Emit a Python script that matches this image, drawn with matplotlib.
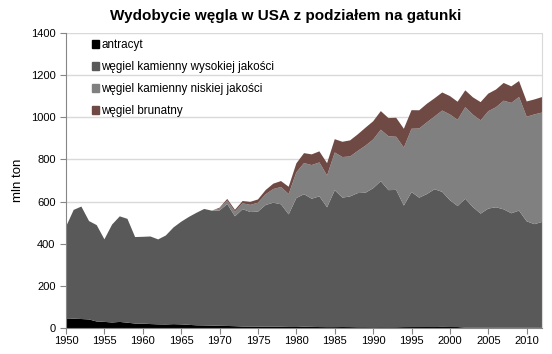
import numpy as np
import matplotlib.pyplot as plt
import matplotlib.patches as mpatches

plt.rcParams['font.family'] = ['Liberation Sans', 'DejaVu Sans']

# lata na osi X
years = list(range(1950, 2013))

# antracyt (mln ton)
antracyt = [42.7, 44.1, 42.7, 40.6, 30.9, 29.1, 26.2, 28.9, 25.3, 21.2,
            20.6, 18.8, 17.4, 16.9, 18.3, 17.2, 14.9, 12.9, 12.3, 11.5,
            10.5, 9.7, 8.7, 7.1, 6.8, 6.6, 6.2, 6.2, 5.9, 5.0,
            4.8, 6.1, 5.4, 4.6, 4.1, 4.2, 4.7, 4.3, 3.6, 3.6,
            3.3, 3.5, 3.4, 3.5, 4.3, 4.6, 4.7, 4.8, 4.7, 5.3,
            4.8, 4.6, 1.9, 1.4, 1.3, 1.7, 1.7, 1.5, 1.6, 1.7,
            1.9, 1.8, 2.2]

# wegiel kamienny wysokiej jakosci
wysokiej = [437.9, 516.3, 533.6, 466.8, 457.3, 391.7, 464.6, 500.9, 492.7, 410.4,
            412.1, 415.5, 403.0, 422.1, 458.9, 487.0, 512.1, 533.9, 552.6, 545.2,
            547.2, 578.5, 521.3, 556.8, 543.5, 545.7, 577.5, 588.4, 581.0, 534.0,
            611.9, 628.8, 608.0, 620.2, 568.6, 649.5, 613.9, 620.1, 636.6, 638.1,
            659.8, 693.2, 650.7, 651.8, 576.7, 640.3, 613.8, 630.7, 653.8, 640.6,
            601.7, 574.3, 611.3, 572.1, 541.5, 565.0, 571.2, 561.6, 542.8, 555.3,
            504.3, 491.0, 501.0]

# wegiel kamienny niskiej jakosci
niskiej = [0] * 20 + [8.8, 16.4, 22.2, 27.6, 34.0, 42.2, 51.1, 64.8, 82.1, 96.8,
                      121.9, 147.6, 159.7, 160.9, 151.1, 179.1, 192.6, 189.5, 200.2, 223.5,
                      231.2, 244.3, 255.4, 252.1, 274.9, 300.5, 328.0, 340.3, 345.1, 385.8,
                      406.7, 409.1, 434.5, 438.3, 442.6, 461.9, 474.7, 515.4, 523.6, 539.1,
                      496.2, 520.6, 519.0]

# wegiel brunatny
brunatny = [0] * 20 + [4.5, 8.0, 8.7, 11.0, 14.3, 15.5, 19.8, 25.5, 28.2, 34.4,
                       42.5, 47.2, 50.7, 52.4, 58.3, 63.1, 72.4, 76.4, 78.4, 85.1,
                       86.4, 88.1, 86.5, 90.1, 89.5, 88.1, 86.5, 88.1, 86.3, 85.8,
                       87.2, 85.6, 80.0, 82.5, 86.4, 83.5, 83.9, 84.2, 78.6, 75.7,
                       72.5, 71.0, 73.6]

labels = ['antracyt', 'węgiel kamienny wysokiej jakości',
          'węgiel kamienny niskiej jakości', 'węgiel brunatny']
colors = ['#000000', '#595959', '#808080', '#6f4a45']

fig = plt.figure(figsize=(5.52, 3.54), dpi=100)
ax = fig.add_axes([0.1196, 0.0734, 0.8624, 0.8336])

ax.stackplot(years, antracyt, wysokiej, niskiej, brunatny,
             colors=colors, linewidth=0, zorder=2)

ax.set_xlim(1950, 2012)
ax.set_ylim(0, 1400)
ax.set_xticks(range(1950, 2011, 5))
ax.set_yticks(range(0, 1401, 200))
ax.yaxis.grid(True, color='#d9d9d9', linewidth=1, zorder=0)
ax.set_axisbelow(True)

for side in ['left', 'bottom']:
    ax.spines[side].set_color('#868686')
ax.spines['top'].set_visible(False)
ax.spines['right'].set_color('#d9d9d9')
ax.tick_params(axis='both', colors='#868686', labelcolor='black',
               labelsize=8, length=4, direction='out')
ax.tick_params(axis='x', pad=2)

ax.set_ylabel('mln ton', fontsize=9.5, labelpad=5)
fig.suptitle('Wydobycie węgla w USA z podziałem na gatunki',
             fontsize=11, fontweight='bold', x=0.518, y=0.975)

patches = [mpatches.Patch(color=colors[i], label=labels[i]) for i in range(len(labels))]
ax.legend(handles=patches, loc='upper left', bbox_to_anchor=(0.045, 0.995),
          frameon=False, fontsize=8.4, handlelength=0.6, handleheight=0.6,
          handletextpad=0.2, labelspacing=0.86, borderaxespad=0)

plt.savefig('out.png', dpi=100)
